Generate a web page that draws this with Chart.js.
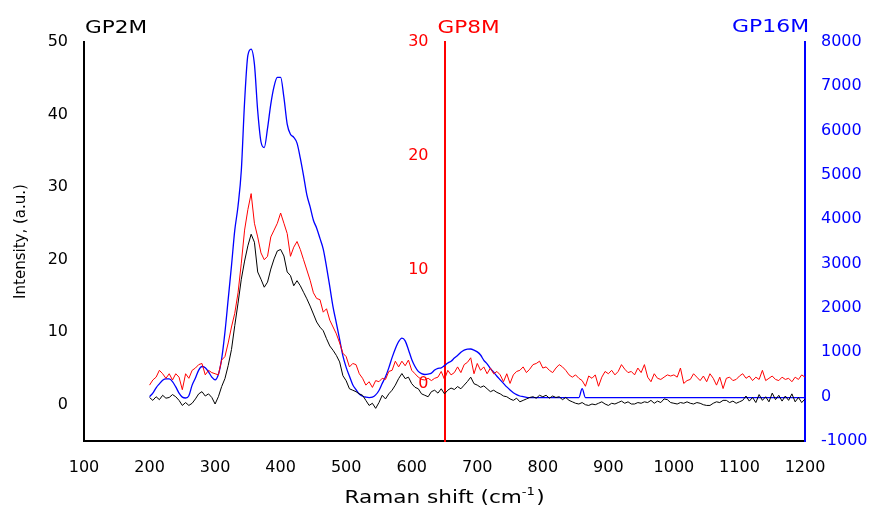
<!DOCTYPE html>
<html>
<head>
<meta charset="utf-8">
<script src="https://cdn.jsdelivr.net/npm/chart.js@4.4.0/dist/chart.umd.min.js"></script>
<style>
  body { margin: 0; background: #fff; }
  canvas { display: block; }
</style>
</head>
<body>
<canvas id="ramanChart" width="874" height="508"></canvas>
<script>
// Raman shift (cm-1)
const shift = [
  200,205,210,215,220,225,230,235,240,245,
  250,255,260,265,270,275,280,285,290,295,
  300,305,310,315,320,325,330,335,340,345,
  350,355,360,365,370,375,380,385,390,395,
  400,405,410,415,420,425,430,435,440,445,
  450,455,460,465,470,475,480,485,490,495,
  500,505,510,515,520,525,530,535,540,545,
  550,555,560,565,570,575,580,585,590,595,
  600,605,610,615,620,625,630,635,640,645,
  650,655,660,665,670,675,680,685,690,695,
  700,705,710,715,720,725,730,735,740,745,
  750,755,760,765,770,775,780,785,790,795,
  800,805,810,815,820,825,830,835,840,845,
  850,855,860,865,870,875,880,885,890,895,
  900,905,910,915,920,925,930,935,940,945,
  950,955,960,965,970,975,980,985,990,995,
  1000,1005,1010,1015,1020,1025,1030,1035,1040,1045,
  1050,1055,1060,1065,1070,1075,1080,1085,1090,1095,
  1100,1105,1110,1115,1120,1125,1130,1135,1140,1145,
  1150,1155,1160,1165,1170,1175,1180,1185,1190,1195,
  1200
];

const gp2m = [
  1.0,0.6,1.1,0.7,1.3,0.9,1.0,1.4,1.1,0.6,
  -0.1,0.3,-0.1,0.2,0.8,1.5,1.8,1.2,1.5,1.0,
  0.1,1.1,2.5,3.6,5.4,7.6,10.9,14.0,17.3,19.8,
  21.9,23.5,22.4,18.3,17.3,16.2,16.9,18.7,20.1,21.2,
  21.4,20.5,18.3,17.8,16.4,17.1,16.4,15.5,14.6,13.6,
  12.5,11.4,10.7,10.2,9.1,8.1,7.5,6.8,5.9,4.0,
  3.3,2.2,2.0,1.8,1.5,1.3,0.6,-0.1,0.2,-0.5,
  0.3,1.3,0.8,1.5,2.0,2.7,3.6,4.3,3.6,3.8,
  2.9,2.4,2.2,1.5,1.3,1.1,1.8,2.0,1.6,2.2,
  1.5,2.0,2.3,2.1,2.5,2.2,2.7,3.2,3.8,2.9,
  2.7,2.4,2.6,2.2,1.8,2.0,1.7,1.5,1.2,1.1,
  0.8,0.6,0.9,0.4,0.6,0.8,1.0,1.1,0.9,1.3,
  1.1,1.3,0.9,1.2,1.0,1.1,0.7,1.0,0.6,0.4,
  0.2,0.1,0.3,0.0,-0.1,0.1,0.0,0.2,0.4,0.1,
  -0.1,0.2,0.1,0.3,0.5,0.2,0.4,0.1,0.1,0.3,
  0.2,0.4,0.3,0.6,0.2,0.5,0.3,0.8,0.7,0.3,
  0.2,0.1,0.3,0.2,0.4,0.2,0.1,0.3,0.2,0.0,
  -0.1,-0.1,0.2,0.4,0.3,0.6,0.6,0.3,0.5,0.2,
  0.4,0.6,1.2,0.5,1.0,0.3,1.4,0.6,1.1,0.4,
  1.6,0.7,1.3,0.5,1.2,0.6,1.5,0.4,1.0,0.3,
  0.8
];

const gp8m = [
  -0.1,0.35,0.6,1.2,0.9,0.5,0.9,0.35,0.9,0.6,
  -0.5,0.9,0.5,1.2,1.4,1.7,1.8,0.8,1.2,1.0,
  0.9,0.8,2.1,2.4,3.6,5.0,6.2,8.0,10.6,13.5,
  15.3,16.7,14.1,12.9,11.5,10.9,11.2,12.9,13.5,14.1,
  15.0,14.1,13.2,11.2,12.0,12.5,11.8,10.9,10.0,9.1,
  8.0,7.5,7.4,6.3,6.6,5.6,5.0,4.4,3.6,2.7,
  2.4,1.5,1.8,1.7,0.9,0.5,-0.1,0.2,-0.3,0.3,
  0.2,0.5,0.4,1.1,1.2,2.0,1.5,2.0,1.6,2.1,
  1.2,0.9,0.6,0.4,0.35,0.5,0.3,0.5,0.6,1.1,
  0.4,1.2,0.8,1.0,1.5,1.0,1.7,1.9,2.3,0.9,
  1.8,1.2,1.5,0.9,1.4,0.9,1.1,0.8,0.2,0.9,
  0.05,0.8,1.1,1.2,1.5,1.0,1.3,1.7,1.8,2.0,
  1.4,1.5,1.2,1.0,1.4,1.7,1.5,1.2,0.8,0.6,
  0.8,0.5,0.3,-0.2,0.7,0.5,0.8,-0.2,0.6,1.1,
  0.9,1.2,0.8,1.1,1.7,1.3,1.0,1.1,0.8,1.4,
  1.0,1.7,0.6,0.2,0.9,0.5,0.4,0.6,0.8,0.7,
  0.8,0.6,1.4,0.05,0.3,0.4,0.9,0.6,0.3,0.7,
  0.2,0.9,0.5,-0.1,0.6,-0.4,0.5,0.6,0.3,0.4,
  0.7,0.9,0.5,0.7,0.3,0.6,0.4,1.2,0.3,0.5,
  0.7,0.4,0.3,0.6,0.4,0.5,0.2,0.6,0.4,0.8,
  0.6
];

const gp16m = [
  0,80,200,290,370,400,400,340,220,80,
  -10,-30,20,260,420,600,680,650,560,440,
  380,500,850,1450,2200,2950,3750,4300,5100,6650,
  7700,7840,7500,6450,5750,5620,6050,6600,7000,7200,
  7200,6750,6150,5920,5850,5720,5380,4980,4550,4280,
  3980,3800,3570,3330,2930,2480,2020,1660,1290,920,
  660,460,270,160,60,10,-10,-20,-10,40,
  140,300,450,650,880,1080,1240,1320,1260,1060,
  840,680,570,520,500,510,530,600,640,650,
  700,760,800,870,930,1000,1050,1070,1075,1050,
  1010,940,820,740,640,550,460,380,300,220,
  150,90,45,15,0,-15,-20,-20,-20,-20,
  -20,-20,-20,-20,-20,-20,-20,-20,-20,-20,
  -20,-20,180,-20,-20,-20,-20,-20,-20,-20,
  -20,-20,-20,-20,-20,-20,-20,-20,-20,-20,
  -20,-20,-20,-20,-20,-20,-20,-20,-20,-20,
  -20,-20,-20,-20,-20,-20,-20,-20,-20,-20,
  -20,-20,-20,-20,-20,-20,-20,-20,-20,-20,
  -20,-20,-20,-20,-20,-20,-20,-20,-20,-20,
  -20,-20,-20,-20,-20,-20,-20,-20,-20,-20,
  -20
];

const xTicks = [100,200,300,400,500,600,700,800,900,1000,1100,1200];
const leftTicks = [0,10,20,30,40,50];
const redTicks = [0,10,20,30];
const blueTicks = [-1000,0,1000,2000,3000,4000,5000,6000,7000,8000];

const FONT = "'DejaVu Sans', sans-serif";
const tickFont = { family: FONT, size: 16 };

function pts(ys) {
  return shift.map((x, i) => ({ x: x, y: ys[i] }));
}

function fixTicks(list) {
  return (scale) => { scale.ticks = list.map(v => ({ value: v })); };
}

const plain = (v) => String(v);

// labels above the axes, red axis labels, x title with superscript
const extraText = {
  id: 'extraText',
  afterDraw(chart) {
    const ctx = chart.ctx;
    const area = chart.chartArea;
    const xs = chart.scales.x;
    const red = chart.scales.yRed;
    const put = (txt, x, y, color, size, sx, align) => {
      ctx.save();
      ctx.font = size + 'px ' + FONT;
      ctx.fillStyle = color;
      ctx.textAlign = align || 'left';
      ctx.textBaseline = 'alphabetic';
      ctx.translate(x, y);
      ctx.scale(sx, 1);
      ctx.fillText(txt, 0, 0);
      ctx.restore();
    };
    const redX = xs.getPixelForValue(650);
    put('GP2M', area.left + 1, 33, '#000', 18, 1.2);
    put('GP8M', redX - 7, 33, '#ff0000', 18, 1.2);
    put('GP16M', area.right - 73, 32, '#0000ff', 18, 1.22);

    // red axis tick labels, left of the red line
    ctx.save();
    ctx.font = '16px ' + FONT;
    ctx.fillStyle = '#ff0000';
    ctx.textAlign = 'right';
    ctx.textBaseline = 'middle';
    redTicks.forEach(v => ctx.fillText(String(v), redX - 16, red.getPixelForValue(v)));
    ctx.restore();

    // Raman shift (cm-1)
    const sx = 1.2;
    ctx.save();
    ctx.font = '18px ' + FONT;
    const w1 = ctx.measureText('Raman shift (cm').width;
    const w3 = ctx.measureText(')').width;
    ctx.font = '11px ' + FONT;
    const w2 = ctx.measureText('-1').width;
    ctx.restore();
    const total = (w1 + w2 + w3 + 1) * sx;
    const x0 = (area.left + area.right) / 2 - total / 2;
    put('Raman shift (cm', x0, 503, '#000', 18, sx);
    put('-1', x0 + w1 * sx, 495, '#000', 11, sx);
    put(')', x0 + (w1 + w2 + 1) * sx, 503, '#000', 18, sx);
  }
};

const ramanChart = new Chart(document.getElementById('ramanChart'), {
  type: 'line',
  data: {
    datasets: [
      {
        label: 'GP2M',
        data: pts(gp2m),
        borderColor: '#000000',
        borderWidth: 1,
        pointRadius: 0,
        yAxisID: 'y'
      },
      {
        label: 'GP8M',
        data: pts(gp8m),
        borderColor: '#ff0000',
        borderWidth: 1,
        pointRadius: 0,
        yAxisID: 'yRed'
      },
      {
        label: 'GP16M',
        data: pts(gp16m),
        borderColor: '#0000ff',
        borderWidth: 1.3,
        pointRadius: 0,
        cubicInterpolationMode: 'monotone',
        yAxisID: 'yBlue'
      }
    ]
  },
  options: {
    responsive: false,
    animation: false,
    devicePixelRatio: 1,
    layout: {
      padding: { top: 42, left: 0, right: 0, bottom: 0 }
    },
    plugins: {
      legend: { display: false },
      tooltip: { enabled: false }
    },
    scales: {
      x: {
        type: 'linear',
        min: 100,
        max: 1200,
        afterBuildTicks: fixTicks(xTicks),
        grid: { display: false, drawTicks: false },
        border: { display: true, color: '#000', width: 2 },
        ticks: { color: '#000', font: tickFont, padding: 17, maxRotation: 0, autoSkip: false, callback: plain },
        afterFit: (s) => { s.height = 67; }
      },
      y: {
        position: 'left',
        min: -5,
        max: 50,
        afterBuildTicks: fixTicks(leftTicks),
        grid: { display: false, drawTicks: false },
        border: { display: true, color: '#000', width: 2 },
        ticks: { color: '#000', font: tickFont, padding: 16, callback: plain },
        title: {
          display: true,
          text: 'Intensity, (a.u.)',
          color: '#000',
          font: { family: FONT, size: 15 },
          padding: { top: 12, bottom: 0 }
        },
        afterFit: (s) => { s.width = 84; }
      },
      yRed: {
        position: { x: 650 },
        min: -5,
        max: 30,
        z: 1,
        afterBuildTicks: fixTicks(redTicks),
        grid: { display: false, drawTicks: false },
        border: { display: true, color: '#ff0000', width: 2 },
        ticks: { display: false }
      },
      yBlue: {
        position: 'right',
        min: -1000,
        max: 8000,
        afterBuildTicks: fixTicks(blueTicks),
        grid: { display: false, drawTicks: false },
        border: { display: true, color: '#0000ff', width: 2 },
        ticks: { color: '#0000ff', font: tickFont, padding: 16, callback: plain },
        afterFit: (s) => { s.width = 69; }
      }
    }
  },
  plugins: [extraText]
});
</script>
</body>
</html>
